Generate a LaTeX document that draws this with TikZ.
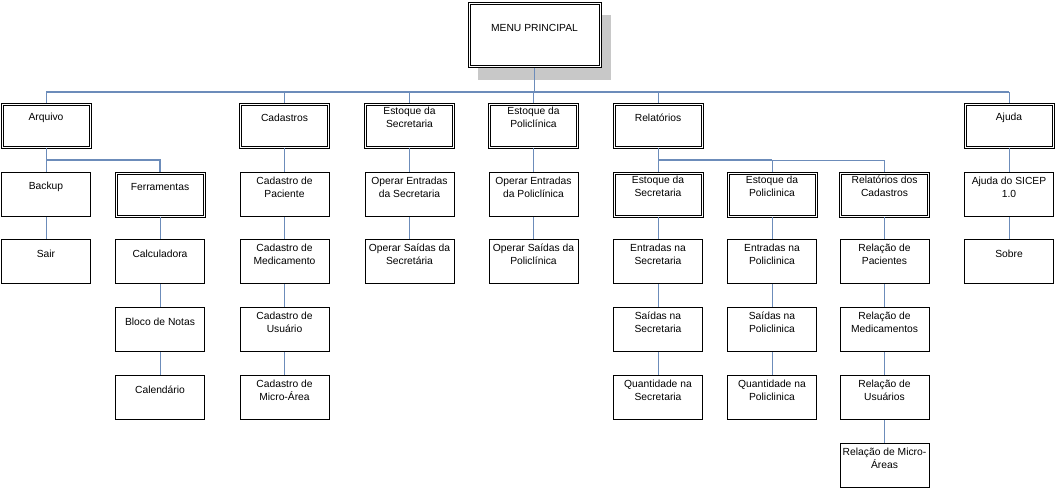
\documentclass[tikz,border=0pt]{standalone}
\usepackage{fontspec}
\setmainfont{Liberation Sans}
\usepackage{tikz}
\usetikzlibrary{shadows}

\definecolor{linkblue}{RGB}{108,140,186}
\definecolor{shade}{RGB}{200,200,200}

\begin{document}
\begin{tikzpicture}[
  x=1pt, y=-1pt,
  txt/.style={anchor=center, yshift=-15pt, align=center, inner sep=0pt,
              font=\fontsize{10.3}{12.7}\selectfont},
  inner frame/.style={path picture={\draw[line width=0.6pt]
      ([xshift=2.2pt,yshift=2.2pt]path picture bounding box.south west) rectangle
      ([xshift=-2.2pt,yshift=-2.2pt]path picture bounding box.north east);}},
  box/.style={rectangle, draw, line width=0.7pt, fill=white, minimum width=89pt,
              minimum height=44pt, inner sep=0pt, label={[txt]north:#1}},
  dbox/.style={box={#1}, line width=0.8pt, minimum width=90pt, minimum height=45pt,
               inner frame},
  menubox/.style={rectangle, draw, line width=0.8pt, fill=white, minimum width=133pt,
                  minimum height=65pt, inner sep=0pt, inner frame,
                  drop shadow={shadow xshift=10pt, shadow yshift=-12pt, fill=shade, opacity=1},
                  label={[txt, yshift=-11pt]north:#1}},
  trunk/.style={draw=linkblue, line width=1.6pt},
  link/.style={draw=linkblue, line width=0.9pt}
]
  \useasboundingbox (0,0) rectangle (1056,490);

  % Main menu
  \node[menubox={MENU PRINCIPAL}] (menu) at (534.5,35) {};

  % First level
  \node[dbox={Arquivo}] (arq) at (46,125.5) {};
  \node[dbox={Cadastros}] (cad) at (284.5,125.5) {};
  \node[dbox={Estoque da\\Secretaria}] (estsec) at (409.5,125.5) {};
  \node[dbox={Estoque da\\Policlínica}] (estpol) at (533.5,125.5) {};
  \node[dbox={Relatórios}] (rel) at (658,125.5) {};
  \node[dbox={Ajuda}] (ajuda) at (1009,125.5) {};

  % Arquivo
  \node[box={Backup}] (backup) at (46,194.5) {};
  \node[box={Sair}] (sair) at (46,261.5) {};
  \node[dbox={Ferramentas}] (ferr) at (160,194.5) {};
  \node[box={Calculadora}] (calc) at (160,261.5) {};
  \node[box={Bloco de Notas}] (bloco) at (160,329.5) {};
  \node[box={Calendário}] (calend) at (160,397.5) {};

  % Cadastros
  \node[box={Cadastro de\\Paciente}] (cpac) at (284.5,194.5) {};
  \node[box={Cadastro de\\Medicamento}] (cmed) at (284.5,261.5) {};
  \node[box={Cadastro de\\Usuário}] (cusu) at (284.5,329.5) {};
  \node[box={Cadastro de\\Micro-Área}] (cmicro) at (284.5,397.5) {};

  % Estoques
  \node[box={Operar Entradas\\da Secretaria}] (opentsec) at (409.5,194.5) {};
  \node[box={Operar Saídas da\\Secretária}] (opsaisec) at (409.5,261.5) {};
  \node[box={Operar Entradas\\da Policlínica}] (opentpol) at (533.5,194.5) {};
  \node[box={Operar Saídas da\\Policlínica}] (opsaipol) at (533.5,261.5) {};

  % Relatorios
  \node[dbox={Estoque da\\Secretaria}] (relsec) at (658,194.5) {};
  \node[box={Entradas na\\Secretaria}] (entsec) at (658,261.5) {};
  \node[box={Saídas na\\Secretaria}] (saisec) at (658,329.5) {};
  \node[box={Quantidade na\\Secretaria}] (qtdsec) at (658,397.5) {};
  \node[dbox={Estoque da\\Policlinica}] (relpol) at (772,194.5) {};
  \node[box={Entradas na\\Policlinica}] (entpol) at (772,261.5) {};
  \node[box={Saídas na\\Policlinica}] (saipol) at (772,329.5) {};
  \node[box={Quantidade na\\Policlinica}] (qtdpol) at (772,397.5) {};
  \node[dbox={Relatórios dos\\Cadastros}] (relcad) at (884.5,194.5) {};
  \node[box={Relação de\\Pacientes}] (rpac) at (884.5,261.5) {};
  \node[box={Relação de\\Medicamentos}] (rmed) at (884.5,329.5) {};
  \node[box={Relação de\\Usuários}] (rusu) at (884.5,397.5) {};
  \node[box={Relação de Micro-\\Áreas}] (rmicro) at (884.5,465.5) {};

  % Ajuda
  \node[box={Ajuda do SICEP\\1.0}] (ajsicep) at (1009,194.5) {};
  \node[box={Sobre}] (sobre) at (1009,261.5) {};

  % Bus lines
  \coordinate (bus) at (534.5,92);
  \coordinate (arqbus) at (46,160);
  \coordinate (relbus) at (658,160);

  % Links
  \draw[link] (menu.south) -- (bus);
  \draw[trunk] (bus -| arq.north) -- (bus -| ajuda.north);
  \draw[link] (bus -| arq.north) -- (arq.north);
  \draw[link] (bus -| cad.north) -- (cad.north);
  \draw[link] (bus -| estsec.north) -- (estsec.north);
  \draw[link] (bus -| estpol.north) -- (estpol.north);
  \draw[link] (bus -| rel.north) -- (rel.north);
  \draw[link] (bus -| ajuda.north) -- (ajuda.north);

  \draw[link] (arq) -- (backup);
  \draw[link, line width=1.2pt] (arqbus) -| (ferr.north);
  \draw[link] (backup) -- (sair);
  \draw[link] (ferr) -- (calc);
  \draw[link] (calc) -- (bloco);
  \draw[link] (bloco) -- (calend);

  \draw[link] (cad) -- (cpac);
  \draw[link] (cpac) -- (cmed);
  \draw[link] (cmed) -- (cusu);
  \draw[link] (cusu) -- (cmicro);

  \draw[link] (estsec) -- (opentsec);
  \draw[link] (opentsec) -- (opsaisec);
  \draw[link] (estpol) -- (opentpol);
  \draw[link] (opentpol) -- (opsaipol);

  \draw[link] (rel) -- (relsec);
  \draw[link, line width=1.6pt] (relbus) -- (relbus -| relpol.north);
  \draw[link] (relbus) -| (relpol.north);
  \draw[link] (relbus) -| (relcad.north);
  \draw[link] (relsec) -- (entsec);
  \draw[link] (entsec) -- (saisec);
  \draw[link] (saisec) -- (qtdsec);
  \draw[link] (relpol) -- (entpol);
  \draw[link] (entpol) -- (saipol);
  \draw[link] (saipol) -- (qtdpol);
  \draw[link] (relcad) -- (rpac);
  \draw[link] (rpac) -- (rmed);
  \draw[link] (rmed) -- (rusu);
  \draw[link] (rusu) -- (rmicro);

  \draw[link] (ajuda) -- (ajsicep);
  \draw[link] (ajsicep) -- (sobre);
\end{tikzpicture}
\end{document}
